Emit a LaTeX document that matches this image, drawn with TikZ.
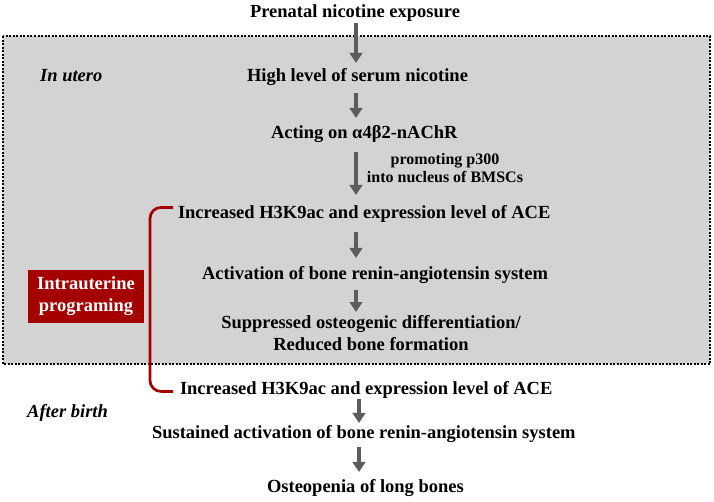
\documentclass[tikz,border=0pt]{standalone}
\usepackage{fontspec}
\setmainfont{Liberation Serif}
\usetikzlibrary{arrows.meta}
\definecolor{boxgray}{RGB}{211,211,211}
\definecolor{arrowgray}{RGB}{92,92,92}
\definecolor{progred}{RGB}{165,0,0}

\begin{document}
\begin{tikzpicture}[x=1pt, y=-1pt,
    stage/.style={font=\fontsize{18.5}{22}\selectfont\bfseries, inner sep=0pt, outer sep=0pt, align=center},
    note/.style={font=\fontsize{16}{18}\selectfont\bfseries, inner sep=0pt, align=center},
    period/.style={font=\fontsize{18.5}{22}\selectfont\bfseries\itshape, inner sep=0pt, anchor=base west},
    flow/.style={-{Triangle[width=12.5pt,length=10pt]}, line width=4.5pt, draw=arrowgray},
    brace/.style={draw=progred, line width=2.7pt, rounded corners=11pt}]
    \useasboundingbox (0,0) rectangle (714,501);

    \filldraw[fill=boxgray, draw=black, line width=2pt, dash pattern=on 2pt off 1.5pt]
        (3,36) rectangle (710,364);

    \coordinate (spine) at (356,0);
    \coordinate (spine2) at (359,0);

    \node(expo)[stage, anchor=base west] at (250,17) {Prenatal nicotine exposure};
    \node(serum)[stage, anchor=base west] at (247,81) {High level of serum nicotine};
    \node(nachr)[stage, anchor=base west] at (271,138) {Acting on α4β2-nAChR};
    \node(ace1)[stage, anchor=base west] at (178,218) {Increased H3K9ac and expression level of ACE};
    \node(ras1)[stage, anchor=base west] at (202,279) {Activation of bone renin-angiotensin system};
    \node(osteo)[stage, anchor=north] at (371,315) {Suppressed osteogenic differentiation/\\Reduced bone formation};
    \node(ace2)[stage, anchor=base west] at (180,394) {Increased H3K9ac and expression level of ACE};
    \node(ras2)[stage, anchor=base west] at (152,438) {Sustained activation of bone renin-angiotensin system};
    \node(bones)[stage, anchor=base west] at (267,492) {Osteopenia of long bones};

    \node(utero)[period] at (40,81) {In utero};
    \node(birth)[period] at (27,417) {After birth};
    \node(p300)[note, anchor=north] at (445,153.5) {promoting p300\\into nucleus of BMSCs};

    \node(prog)[stage, fill=progred, text=white, minimum width=116pt, minimum height=53pt]
        at (86,296.5) {Intrauterine\\programing};
    \draw[brace] ([xshift=-5pt, yshift=6pt]ace1.west) -- ++(-23,0)
        |- ([xshift=-7pt, yshift=-2pt]ace2.west);

    \draw[flow, shorten <=2pt, shorten >=5pt] (expo.south -| spine) -- (serum.north -| spine);
    \draw[flow, shorten <=8pt, shorten >=7pt] (serum.south -| spine) -- (nachr.north -| spine);
    \draw[flow, shorten <=10pt, shorten >=10pt] (nachr.south -| spine) -- (ace1.north -| spine);
    \draw[flow, shorten <=10pt, shorten >=8pt] (ace1.south -| spine) -- (ras1.north -| spine);
    \draw[flow, shorten <=7pt, shorten >=3pt] (ras1.south -| spine) -- (osteo.north -| spine);
    \draw[flow, shorten <=1pt, shorten >=2pt] (ace2.south -| spine2) -- (ras2.north -| spine2);
    \draw[flow, shorten <=5pt, shorten >=7pt] (ras2.south -| spine2) -- (bones.north -| spine2);
\end{tikzpicture}
\end{document}
